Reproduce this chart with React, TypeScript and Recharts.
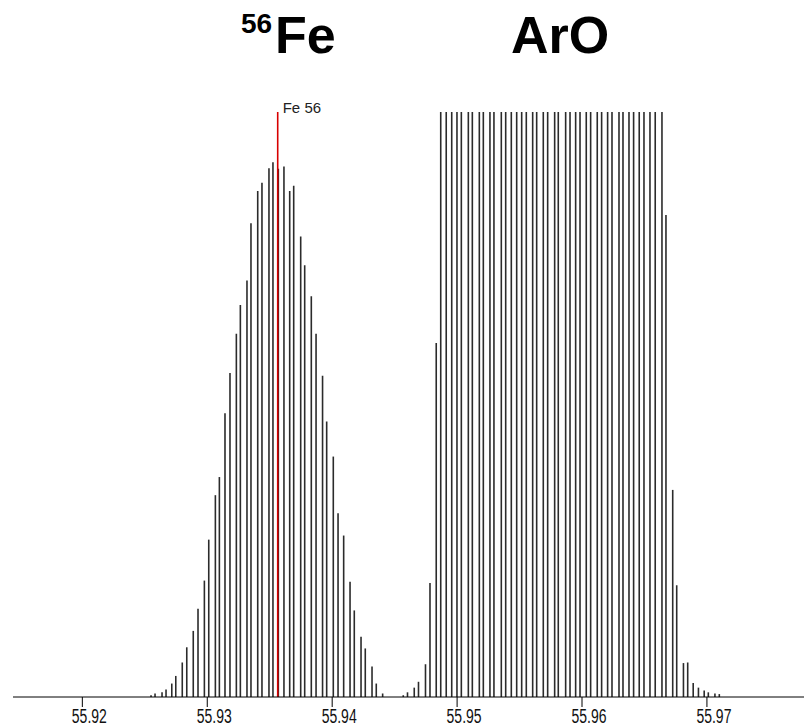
import { ComposedChart, XAxis, YAxis, ReferenceLine, Scatter } from "recharts";

// mass (u) and intensity (% of full scale) for each scan step
const FE_MASS = [
  55.9255, 55.92582, 55.92638, 55.9267, 55.92716, 55.92748, 55.928, 55.92836, 55.92888, 55.92926,
  55.92977, 55.93012, 55.93065, 55.93097, 55.93142, 55.93182, 55.93233, 55.93265, 55.93318, 55.9335,
  55.93404, 55.93438, 55.93494, 55.93526, 55.93569, 55.93614, 55.9366, 55.93692, 55.93748, 55.9378,
  55.93833, 55.93871, 55.93923, 55.93956, 55.94009, 55.94047, 55.94092, 55.94143, 55.94177, 55.94231,
  55.94265, 55.94319, 55.94353, 55.94404,
];
const FE_INT = [
  0.3, 0.6, 0.8, 1.3, 2.3, 3.6, 5.9, 8.5, 11.3, 15.1,
  19.9, 26.9, 34.5, 37.6, 48.5, 55.4, 62.1, 67.0, 71.2, 81.0,
  86.5, 87.9, 90.4, 91.4, 90.3, 90.7, 86.5, 87.4, 78.7, 73.8,
  68.5, 62.1, 54.9, 47.1, 41.1, 31.4, 27.6, 19.7, 14.8, 10.3,
  8.3, 5.2, 2.3, 0.6,
];

const ARO_MASS = [
  55.94569, 55.94603, 55.94657, 55.94691, 55.94747, 55.94783, 55.94833,
  55.94869, 55.94913, 55.94957, 55.94999, 55.95034, 55.9509, 55.95122, 55.95178, 55.9521, 55.95263,
  55.95295, 55.95354, 55.95389, 55.95434, 55.95477, 55.95517, 55.95554, 55.95605, 55.95637, 55.9569,
  55.95725, 55.95781, 55.9581, 55.95869, 55.95904, 55.95949, 55.95984, 55.96034, 55.96069, 55.96122,
  55.96157, 55.96205, 55.9624, 55.96296, 55.96328, 55.96376, 55.96413, 55.96458, 55.96496, 55.96544,
  55.96586, 55.9664,
  55.96672, 55.96726, 55.96758, 55.96812, 55.96846, 55.9689, 55.96932, 55.96978, 55.97011, 55.97064,
  55.97099,
];
// flat top = detector saturated at full scale
const ARO_INT = [
  0.3, 0.8, 1.6, 2.6, 5.6, 19.5, 60.5,
  100, 100, 100, 100, 100, 100, 100, 100, 100, 100,
  100, 100, 100, 100, 100, 100, 100, 100, 100, 100,
  100, 100, 100, 100, 100, 100, 100, 100, 100, 100,
  100, 100, 100, 100, 100, 100, 100, 100, 100, 100,
  100, 100,
  82.4, 35.4, 19.1, 5.8, 5.9, 2.4, 1.6, 1.1, 0.8, 0.6,
  0.5,
];

const FE56_MASS = 55.93564;
const FE56_LABEL = "Fe 56";
const X_TICKS = [55.92, 55.93, 55.94, 55.95, 55.96, 55.97];
const X_DOMAIN = [55.91445, 55.97777];

const STEM = "#2b2b2b";
const RED = "#d80000";
const FONT = '"Liberation Sans", Arial, sans-serif';

const stems = [
  ...FE_MASS.map((m, i) => ({ m, v: FE_INT[i] })),
  ...ARO_MASS.map((m, i) => ({ m, v: ARO_INT[i] })),
];

function MassTick({ x, y, payload }: any) {
  return (
    <text
      x={x - 10.5}
      y={y + 14}
      fontFamily={FONT}
      fontSize={20}
      fill="#111"
      textLength={35}
      lengthAdjust="spacingAndGlyphs"
    >
      {payload.value.toFixed(2)}
    </text>
  );
}

function PeakLabel({ viewBox }: any) {
  return (
    <text x={viewBox.x + 5} y={viewBox.y + 1} fontFamily={FONT} fontSize={15} fill="#222">
      {FE56_LABEL}
    </text>
  );
}

export default function App() {
  return (
    <div style={{ position: "absolute", left: 0, top: 0, width: 804, height: 728, background: "#fff" }}>
      <ComposedChart
        width={804}
        height={728}
        data={stems}
        margin={{ top: 112, right: 0, bottom: 1, left: 13 }}
      >
        <XAxis
          type="number"
          dataKey="m"
          domain={X_DOMAIN}
          ticks={X_TICKS}
          allowDataOverflow
          height={30}
          tickSize={10}
          axisLine={{ stroke: "#000", strokeWidth: 1 }}
          tickLine={{ stroke: "#000", strokeWidth: 1 }}
          tick={<MassTick />}
        />
        <YAxis type="number" domain={[0, 100]} hide />
        <Scatter dataKey="v" shape={() => <g />} isAnimationActive={false} />
        {stems.map((s, i) => (
          <ReferenceLine
            key={i}
            segment={[{ x: s.m, y: 0 }, { x: s.m, y: s.v }]}
            stroke={STEM}
            strokeWidth={1.6}
          />
        ))}
        <ReferenceLine
          segment={[{ x: FE56_MASS, y: 0 }, { x: FE56_MASS, y: 100 }]}
          stroke={RED}
          strokeWidth={1.6}
          label={<PeakLabel />}
        />
      </ComposedChart>
      <svg
        width={804}
        height={728}
        style={{ position: "absolute", left: 0, top: 0, pointerEvents: "none" }}
      >
        <text x={241} y={33} fontFamily={FONT} fontWeight="bold" fontSize={28} fill="#000">
          56
        </text>
        <text x={275} y={53} fontFamily={FONT} fontWeight="bold" fontSize={52} fill="#000">
          Fe
        </text>
        <text x={511} y={53} fontFamily={FONT} fontWeight="bold" fontSize={52} fill="#000">
          ArO
        </text>
      </svg>
    </div>
  );
}
